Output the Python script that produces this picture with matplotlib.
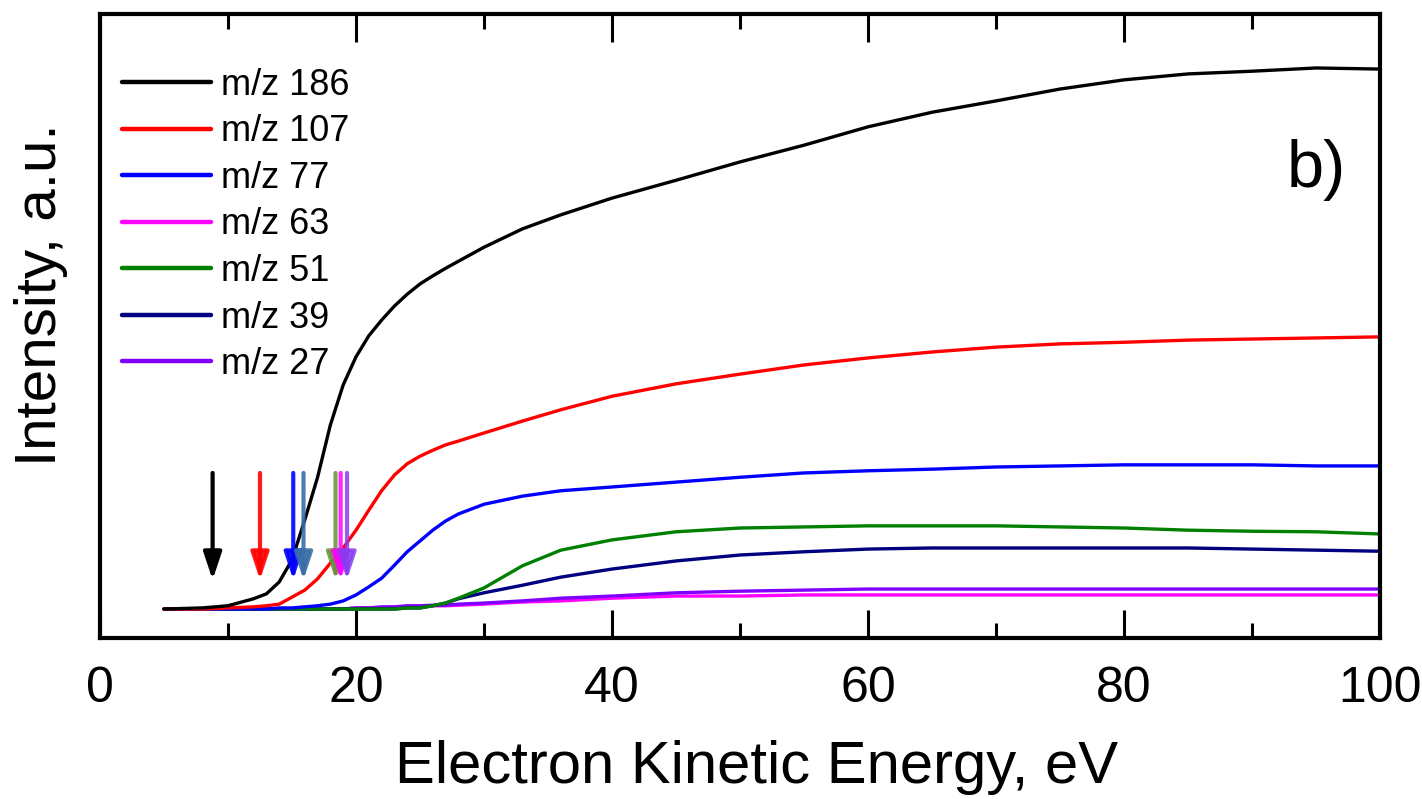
import numpy as np
import matplotlib
matplotlib.use("Agg")
import matplotlib.pyplot as plt
from matplotlib.ticker import MultipleLocator, NullLocator

plt.rcParams['font.family'] = ['Liberation Sans', 'DejaVu Sans']

# electron kinetic energy grid (eV)
energy = [5, 8, 10, 12, 13, 14, 15, 16, 17, 18, 19, 20, 21, 22, 23, 24, 25, 26, 27, 28,
          30, 33, 36, 40, 45, 50, 55, 60, 65, 70, 75, 80, 85, 90, 95, 100]

# ion yields, a.u.
mz186 = [0.000, 0.002, 0.006, 0.019, 0.028, 0.050, 0.091, 0.165, 0.244, 0.341, 0.415,
         0.467, 0.506, 0.535, 0.561, 0.583, 0.602, 0.617, 0.631, 0.644, 0.670, 0.704,
         0.730, 0.761, 0.794, 0.828, 0.859, 0.893, 0.920, 0.941, 0.963, 0.980, 0.991,
         0.996, 1.002, 1.000]
mz107 = [0.000, 0.000, 0.002, 0.004, 0.006, 0.009, 0.022, 0.035, 0.056, 0.085, 0.113,
         0.146, 0.183, 0.219, 0.248, 0.269, 0.283, 0.294, 0.304, 0.311, 0.326, 0.348,
         0.369, 0.394, 0.417, 0.435, 0.452, 0.465, 0.476, 0.485, 0.491, 0.494, 0.498,
         0.500, 0.502, 0.504]
mz77 = [0.000, 0.000, 0.000, 0.000, 0.000, 0.002, 0.002, 0.004, 0.006, 0.009, 0.015,
        0.026, 0.041, 0.057, 0.081, 0.106, 0.126, 0.146, 0.163, 0.176, 0.194, 0.209,
        0.219, 0.226, 0.235, 0.244, 0.252, 0.256, 0.259, 0.263, 0.265, 0.267, 0.267,
        0.267, 0.265, 0.265]
mz63 = [0.000, 0.000, 0.000, 0.000, 0.000, 0.000, 0.000, 0.000, 0.000, 0.000, 0.000,
        0.002, 0.002, 0.002, 0.004, 0.004, 0.004, 0.006, 0.006, 0.007, 0.009, 0.013,
        0.015, 0.020, 0.024, 0.024, 0.026, 0.026, 0.026, 0.026, 0.026, 0.026, 0.026,
        0.026, 0.026, 0.026]
mz51 = [0.000, 0.000, 0.000, 0.000, 0.000, 0.000, 0.000, 0.000, 0.000, 0.000, 0.000,
        0.000, 0.000, 0.000, 0.000, 0.002, 0.002, 0.006, 0.011, 0.020, 0.039, 0.080,
        0.109, 0.128, 0.143, 0.150, 0.152, 0.154, 0.154, 0.154, 0.152, 0.150, 0.146,
        0.144, 0.143, 0.139]
mz39 = [0.000, 0.000, 0.000, 0.000, 0.000, 0.000, 0.000, 0.000, 0.000, 0.000, 0.000,
        0.000, 0.000, 0.000, 0.000, 0.002, 0.002, 0.006, 0.011, 0.019, 0.030, 0.044,
        0.059, 0.074, 0.089, 0.100, 0.106, 0.111, 0.113, 0.113, 0.113, 0.113, 0.113,
        0.111, 0.109, 0.107]
mz27 = [0.000, 0.000, 0.000, 0.000, 0.000, 0.000, 0.000, 0.000, 0.000, 0.000, 0.000,
        0.002, 0.002, 0.004, 0.004, 0.006, 0.006, 0.007, 0.007, 0.009, 0.011, 0.015,
        0.020, 0.024, 0.030, 0.033, 0.035, 0.037, 0.037, 0.037, 0.037, 0.037, 0.037,
        0.037, 0.037, 0.037]

labels = ['m/z 186', 'm/z 107', 'm/z 77', 'm/z 63', 'm/z 51', 'm/z 39', 'm/z 27']
colors = ['black', '#ff0000', '#0000ff', '#ff00ff', '#008000', '#000080', '#8000ff']
series = [mz186, mz107, mz77, mz63, mz51, mz39, mz27]

# appearance-energy arrows (eV)
onset_energy = [8.8, 12.5, 15.1, 15.9, 18.4, 18.8, 19.3]
onset_colors = ['black', '#ff0000', '#0000ff', '#3b6ea8', '#6b8e3a', '#ff00ff', '#8a3cf0']
onset_alpha = [1.0, 0.9, 0.9, 0.9, 0.85, 0.85, 0.85]
arrow_top, arrow_tip = 0.252, 0.054

fig = plt.figure(figsize=(14.22, 7.99), dpi=100)
ax = fig.add_axes([0.0703, 0.2015, 0.9002, 0.781])

# draw order: small signals first, black on top
for idx in [3, 6, 5, 4, 2, 1, 0]:
    ax.plot(energy, series[idx], color=colors[idx], lw=2.4, label=labels[idx],
            solid_capstyle='round', solid_joinstyle='round')

for e, c, a in zip(onset_energy, onset_colors, onset_alpha):
    ax.annotate('', xy=(e, arrow_tip), xytext=(e, arrow_top),
                arrowprops=dict(arrowstyle='-|>,head_length=1.65,head_width=0.55',
                                color=c, lw=3.0, alpha=a, shrinkA=0, shrinkB=0))

ax.set_xlim(0, 100)
ax.set_ylim(-0.0537, 1.102)
ax.xaxis.set_major_locator(MultipleLocator(20))
ax.xaxis.set_minor_locator(MultipleLocator(10))
ax.yaxis.set_major_locator(NullLocator())
ax.tick_params(axis='x', which='both', direction='in', top=True, bottom=True,
               width=2.2, labelsize=36, pad=20)
ax.tick_params(axis='x', which='major', length=20)
ax.tick_params(axis='x', which='minor', length=11)
for sp in ax.spines.values():
    sp.set_linewidth(3.0)

ax.set_xlabel('Electron Kinetic Energy, eV', fontsize=43, labelpad=20)
ax.xaxis.label.set_x(0.513)
ax.set_ylabel('Intensity, a.u.', fontsize=42)
ax.yaxis.set_label_coords(-0.025, 0.55)

handles, labs = ax.get_legend_handles_labels()
order = [labs.index(l) for l in labels]
leg = ax.legend([handles[i] for i in order], [labs[i] for i in order],
                loc='upper left', bbox_to_anchor=(0.006, 0.937), frameon=False,
                fontsize=26, handlelength=2.45, handletextpad=0.28,
                labelspacing=0.32, borderaxespad=0.0)
for h in leg.get_lines():
    h.set_linewidth(3.2)

ax.text(0.973, 0.75, 'b)', transform=ax.transAxes, fontsize=48,
        ha='right', va='center')

fig.savefig('out.png', dpi=100)
